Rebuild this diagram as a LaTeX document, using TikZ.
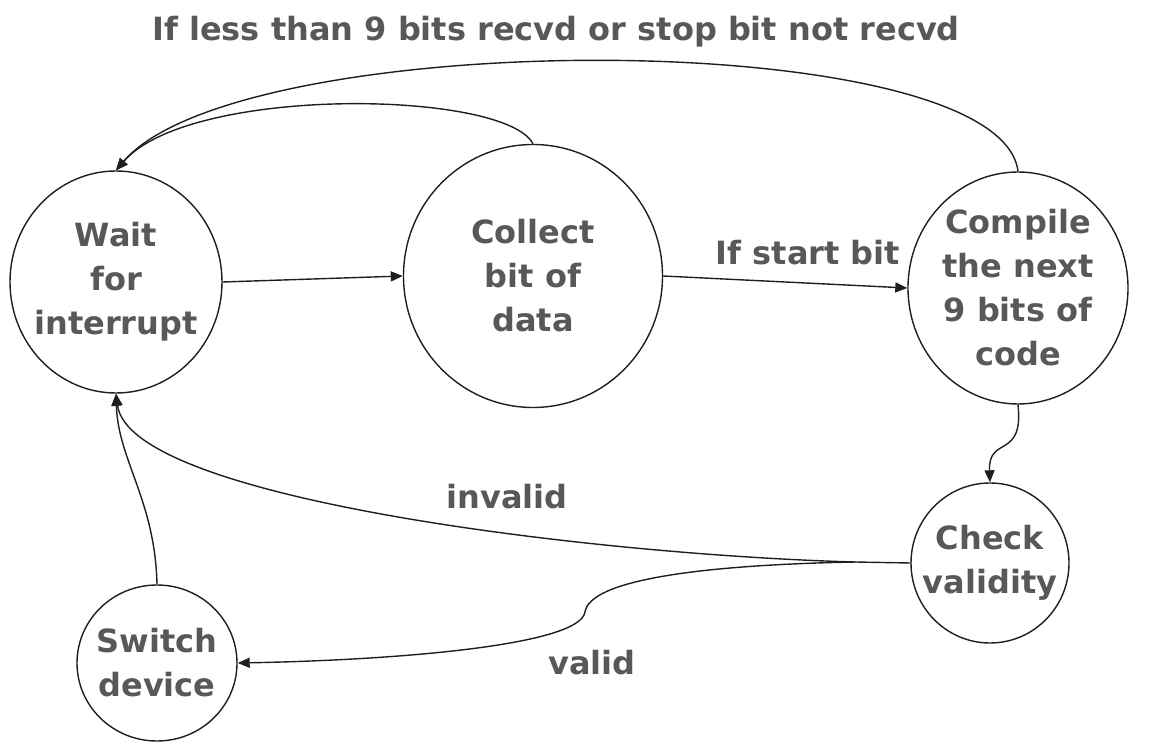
\documentclass[tikz,border=0pt]{standalone}
\usepackage{fontspec}
\setmainfont{DejaVu Sans}
\usepackage{xcolor}
\usepackage{tikz}
\usetikzlibrary{shapes.geometric, arrows.meta, positioning}

\definecolor{txtgray}{HTML}{585858}
\definecolor{linegray}{HTML}{1E1E1E}

\begin{document}
\begin{tikzpicture}[
    x=0.5pt, y=-0.5pt,
    state/.style={ellipse, draw=linegray, line width=0.7pt, inner sep=-14pt, align=center, font=\fontsize{16}{22}\selectfont\bfseries, text=txtgray},
    lbl/.style={font=\fontsize{16}{20}\selectfont\bfseries, text=txtgray, inner sep=0pt},
    arrow/.style={-{Triangle[length=6pt, width=5pt]}, draw=linegray, line width=0.7pt}
]
\useasboundingbox (0,0) rectangle (1156,742);

% States
\node[state, minimum width=106pt, minimum height=111pt] (wait) at (116,282) {Wait\\for\\interrupt};
\node[state, minimum width=129.5pt, minimum height=131.5pt] (collect) at (533,276) {Collect\\bit of\\data};
\node[state, minimum width=110pt, minimum height=116pt] (compile) at (1018,288) {Compile\\the next\\9 bits of\\code};
\node[state, minimum width=79pt, minimum height=80pt] (check) at (990,563) {Check\\validity};
\node[state, minimum width=80pt, minimum height=78pt] (switch) at (157,663) {Switch\\device};
\coordinate (split) at (855,562);

% Labels
\node[lbl] (lblretry) at (556,32) {If less than 9 bits recvd or stop bit not recvd};
\node[lbl] (lblstart) at (808,253) {If start bit};
\node[lbl] (lblinvalid) at (507,497) {invalid};
\node[lbl] (lblvalid) at (592,663) {valid};

% Transitions
\draw[arrow] (wait.east) -- (collect.west);
\draw[arrow] (collect.east) -- (compile.west);
\draw[arrow] (collect.north) .. controls (505,90) and (190,85) .. (wait.north);
\draw[arrow] (compile.north) .. controls (1000,25) and (240,25) .. (wait.north);
\draw[arrow] (compile.south) .. controls (1024,460) and (988,435) .. (check.north);
\draw[linegray, line width=0.7pt] (check.west) -- (split);
\draw[arrow] (split) .. controls (600,555) and (130,500) .. (wait.south);
\draw[arrow] (split) .. controls (700,565) and (590,580) .. (585,612)
    .. controls (580,645) and (400,660) .. (switch.east);
\draw[arrow] (switch.north) .. controls (155,500) and (118,460) .. (wait.south);

\end{tikzpicture}
\end{document}
